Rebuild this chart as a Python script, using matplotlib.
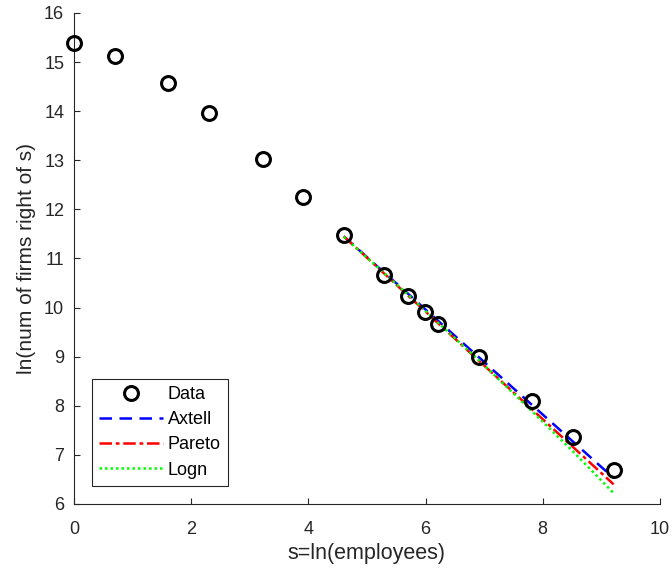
import matplotlib
matplotlib.use("Agg")
import matplotlib.pyplot as plt

plt.rcParams['font.family'] = ['Liberation Sans', 'DejaVu Sans']

s_data = [0.0, 0.693, 1.609, 2.303, 3.219, 3.912, 4.605, 5.298, 5.704, 5.991, 6.215, 6.908, 7.824, 8.517, 9.210]
y_data = [15.38, 15.13, 14.58, 13.96, 13.02, 12.25, 11.47, 10.67, 10.24, 9.90, 9.67, 9.00, 8.10, 7.37, 6.69]

s_fit = [4.605, 5.298, 5.704, 5.991, 6.215, 6.908, 7.824, 8.517, 9.210]
y_axtell = [11.45, 10.71, 10.28, 9.97, 9.73, 8.99, 8.01, 7.27, 6.53]
y_pareto = [11.45, 10.69, 10.24, 9.93, 9.68, 8.92, 7.92, 7.16, 6.40]
y_logn = [11.44, 10.70, 10.26, 9.94, 9.69, 8.93, 7.88, 7.07, 6.22]

fig = plt.figure(figsize=(6.72, 5.75), dpi=100)
ax = fig.add_axes([0.110, 0.1235, 0.872, 0.854])

ax.plot(s_data, y_data, 'o', mfc='none', mec='black', ms=10, mew=2.2, label='Data', clip_on=False, zorder=5)
ax.plot(s_fit, y_axtell, '--', color='#0000ff', lw=1.8, dashes=(5, 3), label='Axtell')
ax.plot(s_fit, y_pareto, '-.', color='#ff0000', lw=1.8, dashes=(5, 1.5, 1.5, 1.5), label='Pareto')
ax.plot(s_fit, y_logn, ':', color='#00ff00', lw=1.8, dashes=(1, 1.2), label='Logn')

ax.set_xlim(0, 10)
ax.set_ylim(6, 16)
ax.set_xticks(range(0, 11, 2))
ax.set_yticks(range(6, 17))
ax.spines['top'].set_visible(False)
ax.spines['right'].set_visible(False)
for sp in ax.spines.values():
    sp.set_color('#262626')
    sp.set_linewidth(0.8)
ax.tick_params(direction='in', length=4.5, labelsize=13, colors='#262626')
ax.tick_params(axis='x', pad=12)
ax.tick_params(axis='y', pad=7)
ax.set_xlabel('s=ln(employees)', fontsize=15.5, color='#262626', labelpad=4)
ax.set_ylabel('ln(num of firms right of s)', fontsize=15, color='#262626', labelpad=6)

leg = ax.legend(loc='lower left', bbox_to_anchor=(0.031, 0.037), fontsize=13,
                fancybox=False, edgecolor='#262626', framealpha=1,
                handlelength=3.5, borderaxespad=0, handletextpad=0.3, labelspacing=0.45,
                borderpad=0.4)
leg.get_frame().set_linewidth(0.8)

fig.savefig('out.png', dpi=100)
